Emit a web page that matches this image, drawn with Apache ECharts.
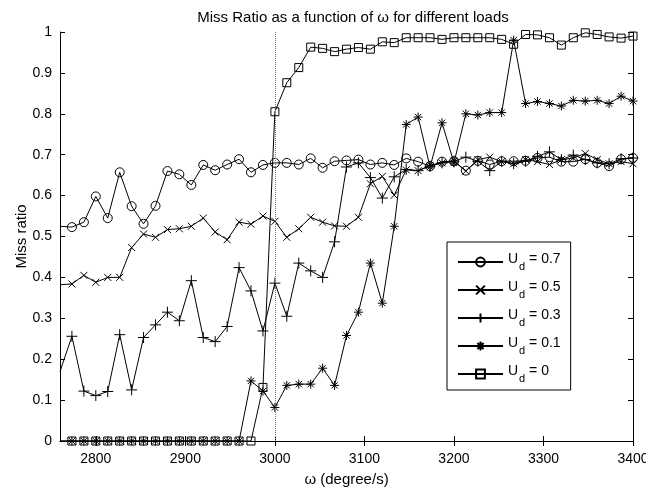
<!DOCTYPE html>
<html>
<head>
<meta charset="utf-8">
<script src="https://cdn.jsdelivr.net/npm/echarts@6/dist/echarts.min.js"></script>
<style>
  html, body { margin: 0; padding: 0; background: #fff; }
  #chart { width: 646px; height: 489px; }
</style>
</head>
<body>
<div id="chart"></div>
<script>
// omega values (degree/s)
const omega = [2760, 2773.3, 2786.7, 2800, 2813.3, 2826.7, 2840, 2853.3, 2866.7, 2880,
  2893.3, 2906.7, 2920, 2933.3, 2946.7, 2960, 2973.3, 2986.7, 3000, 3013.3,
  3026.7, 3040, 3053.3, 3066.7, 3080, 3093.3, 3106.7, 3120, 3133.3, 3146.7,
  3160, 3173.3, 3186.7, 3200, 3213.3, 3226.7, 3240, 3253.3, 3266.7, 3280,
  3293.3, 3306.7, 3320, 3333.3, 3346.7, 3360, 3373.3, 3386.7, 3400]

const ud07 = [0.525, 0.523, 0.535, 0.598, 0.545, 0.657, 0.574, 0.531, 0.575, 0.660,
  0.652, 0.626, 0.675, 0.662, 0.676, 0.689, 0.657, 0.675, 0.680, 0.680,
  0.676, 0.691, 0.668, 0.684, 0.686, 0.688, 0.676, 0.680, 0.675, 0.691,
  0.683, 0.672, 0.683, 0.684, 0.661, 0.685, 0.676, 0.684, 0.684, 0.685,
  0.692, 0.694, 0.683, 0.683, 0.689, 0.680, 0.672, 0.689, 0.692]

const ud05 = [0.382, 0.384, 0.405, 0.388, 0.400, 0.400, 0.473, 0.506, 0.498, 0.517,
  0.519, 0.525, 0.545, 0.511, 0.492, 0.535, 0.530, 0.550, 0.537, 0.498,
  0.519, 0.547, 0.535, 0.526, 0.525, 0.547, 0.629, 0.647, 0.601, 0.663,
  0.661, 0.674, 0.680, 0.684, 0.660, 0.688, 0.694, 0.683, 0.678, 0.688,
  0.683, 0.676, 0.688, 0.692, 0.703, 0.688, 0.678, 0.683, 0.678]

const ud03 = [0.170, 0.256, 0.122, 0.111, 0.121, 0.260, 0.125, 0.253, 0.284, 0.315,
  0.294, 0.392, 0.253, 0.243, 0.280, 0.424, 0.367, 0.269, 0.386, 0.305,
  0.435, 0.416, 0.400, 0.487, 0.670, 0.680, 0.644, 0.594, 0.646, 0.664,
  0.661, 0.672, 0.680, 0.684, 0.694, 0.684, 0.661, 0.684, 0.678, 0.684,
  0.696, 0.707, 0.688, 0.699, 0.688, 0.680, 0.678, 0.690, 0.692]

const ud01 = [0, 0, 0, 0, 0, 0, 0, 0, 0, 0,
  0, 0, 0, 0, 0, 0, 0.147, 0.122, 0.082, 0.136,
  0.139, 0.139, 0.178, 0.136, 0.258, 0.315, 0.435, 0.337, 0.525, 0.774,
  0.792, 0.670, 0.778, 0.680, 0.800, 0.797, 0.803, 0.803, 0.980, 0.825,
  0.830, 0.825, 0.819, 0.833, 0.831, 0.833, 0.825, 0.843, 0.831]

const ud0 = [0, 0, 0, 0, 0, 0, 0, 0, 0, 0,
  0, 0, 0, 0, 0, 0, 0, 0.131, 0.805, 0.876,
  0.913, 0.963, 0.960, 0.952, 0.958, 0.962, 0.958, 0.976, 0.974, 0.986,
  0.986, 0.986, 0.982, 0.986, 0.986, 0.986, 0.986, 0.982, 0.970, 0.994,
  0.993, 0.986, 0.968, 0.986, 0.998, 0.994, 0.988, 0.985, 0.990]

const xTicks = [2800, 2900, 3000, 3100, 3200, 3300, 3400]
const loads = ['0.7', '0.5', '0.3', '0.1', '0']

const font = 'Liberation Sans, Arial, Helvetica, sans-serif'

const symX = 'path://M0,0L10,10M10,0L0,10'
const symPlus = 'path://M5,0L5,10M0,5L10,5'
const symStar = 'path://M5,0L5,10M0,5L10,5M1.5,1.5L8.5,8.5M8.5,1.5L1.5,8.5'

// first point sits on the left axis edge, no marker there
const pts = ys => ys.map((y, i) => i === 0 ? { value: [omega[i], y], symbol: 'none' } : [omega[i], y])

const mkSeries = (name, ys, symbol, size) => ({
  name: name,
  type: 'line',
  data: pts(ys),
  symbol: symbol,
  symbolSize: size,
  showAllSymbol: true,
  clip: true,
  lineStyle: { color: '#000', width: 1 },
  itemStyle: { color: 'rgba(0,0,0,0)', borderColor: '#000', borderWidth: 1 },
  emphasis: { disabled: true }
})

const names = loads.map(l => 'U_d = ' + l)

const series = [
  mkSeries(names[0], ud07, 'circle', 9),
  mkSeries(names[1], ud05, symX, 7),
  mkSeries(names[2], ud03, symPlus, 11),
  mkSeries(names[3], ud01, symStar, 9),
  mkSeries(names[4], ud0, 'rect', 8)
]
series[4].markLine = {
  silent: true,
  symbol: ['none', 'none'],
  label: { show: false },
  lineStyle: { type: 'dotted', color: '#777', width: 1 },
  data: [{ xAxis: 3000 }]
}

const tickStyle = { inside: true, length: 5, lineStyle: { color: '#000' } }
const lineStyle = { lineStyle: { color: '#000', width: 1 } }

const chart = echarts.init(document.getElementById('chart'))
chart.setOption({
  animation: false,
  backgroundColor: '#fff',
  title: {
    text: 'Miss Ratio as a function of ω for different loads',
    left: 348, top: 5, textAlign: 'center',
    textStyle: { fontFamily: font, fontSize: 15, fontWeight: 'normal', color: '#000' }
  },
  grid: { left: 60, right: 13, top: 32, bottom: 48, outerBoundsMode: 'none' },
  legend: {
    orient: 'vertical',
    left: 447, top: 242,
    width: 124,
    padding: [10, 10, 6, 10],
    itemGap: 8,
    itemWidth: 45,
    itemHeight: 11,
    borderColor: '#000', borderWidth: 1,
    backgroundColor: '#fff',
    data: names,
    formatter: n => '{a|U}{s|d}{a| = ' + n.split('= ')[1] + '}',
    textStyle: {
      rich: {
        a: { fontFamily: font, fontSize: 14, color: '#000', lineHeight: 20, verticalAlign: 'top' },
        s: { fontFamily: font, fontSize: 11, color: '#000', lineHeight: 20, verticalAlign: 'bottom', padding: [9, 0, 0, 1] }
      }
    }
  },
  xAxis: [{
    type: 'value', min: 2760, max: 3400,
    name: 'ω (degree/s)', nameLocation: 'middle', nameGap: 31, nameMoveOverlap: false,
    nameTextStyle: { fontFamily: font, fontSize: 15, color: '#000' },
    axisLine: lineStyle,
    axisTick: Object.assign({ customValues: xTicks }, tickStyle),
    axisLabel: { customValues: xTicks, formatter: v => String(v), fontFamily: font, fontSize: 14, color: '#000', margin: 11 },
    splitLine: { show: false }
  }, {
    type: 'value', min: 2760, max: 3400, position: 'top',
    axisLine: lineStyle,
    axisTick: Object.assign({ customValues: xTicks }, tickStyle),
    axisLabel: { show: false },
    splitLine: { show: false }
  }],
  yAxis: [{
    type: 'value', min: 0, max: 1, interval: 0.1,
    name: 'Miss ratio', nameLocation: 'middle', nameGap: 31, nameMoveOverlap: false,
    nameTextStyle: { fontFamily: font, fontSize: 15, color: '#000' },
    axisLine: lineStyle,
    axisTick: tickStyle,
    axisLabel: { fontFamily: font, fontSize: 14, color: '#000', margin: 8 },
    splitLine: { show: false }
  }, {
    type: 'value', min: 0, max: 1, interval: 0.1, position: 'right',
    axisLine: lineStyle,
    axisTick: tickStyle,
    axisLabel: { show: false },
    splitLine: { show: false }
  }],
  series: series
})
</script>
</body>
</html>
